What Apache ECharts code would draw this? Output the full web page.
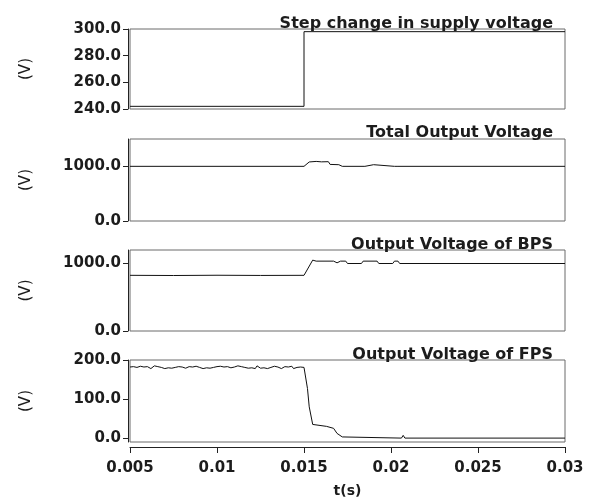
<!DOCTYPE html>
<html>
<head>
<meta charset="utf-8">
<script src="https://cdn.jsdelivr.net/npm/echarts@6/dist/echarts.min.js"></script>
<style>
html,body{margin:0;padding:0;background:#fff;}
#c{width:596px;height:501px;}
</style>
</head>
<body>
<div id="c"></div>
<script>
// ---- data (time in s, voltage in V) ----
var titles = ['Step change in supply voltage', 'Total Output Voltage', 'Output Voltage of BPS', 'Output Voltage of FPS'];
var xTicks = [0.005, 0.01, 0.015, 0.02, 0.025, 0.03];

var supplyT = [0.005, 0.015, 0.015, 0.030];
var supplyV = [242, 242, 298, 298];

var totalT = [0.005, 0.0150, 0.0153, 0.0157, 0.0160, 0.0164, 0.0165, 0.0170, 0.0172, 0.0185, 0.0186, 0.0190, 0.0191, 0.0202, 0.0203, 0.0204, 0.0205, 0.030];
var totalV = [1000, 1000, 1080, 1090, 1082, 1085, 1035, 1030, 1000, 1000, 1030, 1030, 1000, 1000, 1025, 1000, 1000, 1000];

var bpsT = [0.005, 0.0075, 0.010, 0.0125, 0.0150, 0.0155, 0.0157, 0.0167, 0.0169, 0.0171, 0.0174, 0.0175, 0.0183, 0.0184, 0.0192, 0.0193, 0.0201, 0.0202, 0.0204, 0.0205, 0.030];
var bpsV = [825, 822, 826, 823, 825, 1050, 1035, 1035, 1010, 1035, 1035, 1000, 1000, 1035, 1035, 1000, 1000, 1035, 1035, 1000, 1000];

// FPS output before the step: sampled every 0.1 ms from 5.0 ms to 15.0 ms
var fpsPreStart = 0.005, fpsPreStep = 0.0001;
var fpsPreV = [
  182, 179, 183, 180, 181, 178, 184, 180, 182, 179,
  183, 181, 178, 182, 185, 180, 183, 179, 181, 184,
  178, 183, 180, 182, 179, 184, 181, 177, 183, 180,
  182, 185, 179, 181, 183, 178, 182, 180, 184, 179,
  181, 183, 178, 182, 180, 185, 179, 182, 181, 178,
  183, 180, 184, 179, 182, 181, 183, 178, 180, 184,
  182, 179, 185, 180, 183, 178, 181, 184, 179, 182,
  180, 183, 178, 185, 181, 179, 184, 180, 182, 178,
  183, 181, 179, 184, 180, 182, 185, 178, 181, 183,
  179, 182, 180, 184, 178, 183, 181, 179, 182, 180, 181
];
// FPS output after the step
var fpsPostT = [0.0151, 0.0152, 0.0153, 0.0155, 0.0156, 0.0163, 0.0164, 0.0167, 0.0169, 0.0172, 0.0173, 0.0206, 0.0207, 0.0208, 0.030];
var fpsPostV = [180, 127, 80, 35, 31, 30, 26, 25, 12, 3, 0, 0, 7, 0, 0];

var yMin = [240, 0, 0, -10];
var yMax = [300, 1500, 1200, 200];
var yTicks = [[240, 260, 280, 300], [0, 1000], [0, 1000], [0, 100, 200]];

// ---- layout ----
var gridTops = [29, 139, 250, 360];
var gridHeights = [80, 82, 81, 82];
var titleTops = [11, 120, 232, 342];
var FONT = 'DejaVu Sans';
var TXT = '#1c1c1c';

function zip(a, b) { return a.map(function (v, i) { return [v, b[i]]; }); }
var fpsData = fpsPreV.map(function (v, i) { return [+(fpsPreStart + i * fpsPreStep).toFixed(4), v]; })
  .concat(zip(fpsPostT, fpsPostV));
var seriesData = [zip(supplyT, supplyV), zip(totalT, totalV), zip(bpsT, bpsV), fpsData];

var grids = [], xAxes = [], yAxes = [], series = [], titleArr = [];
for (var i = 0; i < 4; i++) {
  grids.push({left: 130, right: 31, top: gridTops[i], height: gridHeights[i], show: true,
              borderColor: '#6a6a6a', borderWidth: 1, backgroundColor: 'transparent'});
  var last = (i === 3);
  xAxes.push({
    gridIndex: i, type: 'value', min: 0.005, max: 0.03, interval: 0.005,
    show: last, offset: last ? 5 : 0,
    splitLine: {show: false},
    axisLine: {show: last, onZero: false, lineStyle: {color: '#222', width: 1}},
    axisTick: {show: last, length: 6, inside: false, lineStyle: {color: '#222'}},
    axisLabel: {show: last, margin: 14, color: TXT, fontFamily: FONT, fontWeight: 'bold', fontSize: 15,
      formatter: function (v) { return String(+(+v).toFixed(3)); }},
    name: last ? 't(s)' : '', nameLocation: 'middle', nameGap: 37,
    nameTextStyle: {color: TXT, fontFamily: FONT, fontWeight: 'bold', fontSize: 14}
  });
  yAxes.push({
    gridIndex: i, type: 'value', min: yMin[i], max: yMax[i], offset: 2,
    splitLine: {show: false},
    axisLine: {show: true, onZero: false, lineStyle: {color: '#222', width: 1}},
    axisTick: {show: true, length: 5, inside: false, customValues: yTicks[i], lineStyle: {color: '#222'}},
    axisLabel: {show: true, margin: 7, customValues: yTicks[i], color: TXT, fontFamily: FONT, fontWeight: 'bold', fontSize: 15,
      formatter: function (v) { return (+v).toFixed(1); }},
    name: '(V)', nameLocation: 'middle', nameRotate: 90, nameGap: 94,
    nameTextStyle: {color: TXT, fontFamily: FONT, fontSize: 15}
  });
  series.push({type: 'line', xAxisIndex: i, yAxisIndex: i, data: seriesData[i],
    showSymbol: false, symbol: 'none', lineStyle: {color: '#111', width: 1}, silent: true});
  titleArr.push({text: titles[i], right: 38, top: titleTops[i],
    textStyle: {color: TXT, fontFamily: FONT, fontWeight: 'bold', fontSize: 16}});
}

var chart = echarts.init(document.getElementById('c'), null, {renderer: 'canvas'});
chart.setOption({
  animation: false,
  backgroundColor: '#fff',
  title: titleArr,
  grid: grids,
  xAxis: xAxes,
  yAxis: yAxes,
  series: series
});
</script>
</body>
</html>
